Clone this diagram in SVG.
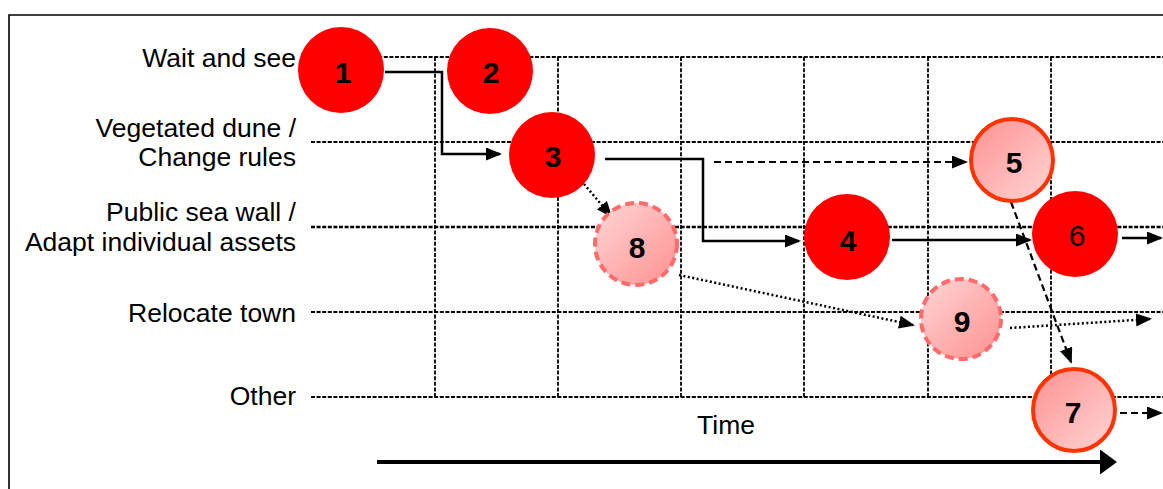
<svg xmlns="http://www.w3.org/2000/svg" width="1163" height="489" viewBox="0 0 1163 489">
  <style>
    .lbl { font-family: "Liberation Sans", Arial, sans-serif; font-size: 26.5px; fill: #000; text-anchor: end; }
    .num { font-family: "Liberation Sans", Arial, sans-serif; font-size: 30px; font-weight: bold; fill: #000; text-anchor: middle; }
    .grid { stroke: #000; stroke-width: 1.8; stroke-dasharray: 4 1.6; fill: none; }
    .solid { stroke: #000; stroke-width: 2.5; fill: none; }
    .dash { stroke: #000; stroke-width: 2.2; stroke-dasharray: 7 4; fill: none; }
    .dot { stroke: #000; stroke-width: 2.5; stroke-dasharray: 2 2.5; fill: none; }
    .red { fill: #FF0000; }
    .firm { stroke: #FF3300; stroke-width: 4; }
    .soft { stroke: #FF6A6A; stroke-width: 4; stroke-dasharray: 9 5; }
  </style>
  <defs>
    <marker id="arr" markerUnits="userSpaceOnUse" markerWidth="17" markerHeight="14" refX="14" refY="6.5" orient="auto">
      <path d="M0,0 L16,6.5 L0,13 z" fill="#000"/>
    </marker>
    <marker id="bigarr" markerUnits="userSpaceOnUse" markerWidth="18" markerHeight="26" refX="14" refY="12.5" orient="auto">
      <path d="M0,0 L17,12.5 L0,25 z" fill="#000"/>
    </marker>
    <linearGradient id="pinkA" x1="0" y1="0" x2="1" y2="1">
      <stop offset="0" stop-color="#FF9090"/>
      <stop offset="1" stop-color="#FFD6D6"/>
    </linearGradient>
    <linearGradient id="pinkB" x1="0" y1="0" x2="1" y2="1">
      <stop offset="0" stop-color="#FFD6D6"/>
      <stop offset="1" stop-color="#FF9090"/>
    </linearGradient>
  </defs>

  <rect width="1163" height="489" fill="#fff"/>

  <!-- frame -->
  <path d="M9,489 L9,15 L1163,15" stroke="#000" stroke-width="1.6" fill="none"/>

  <!-- row labels and axis title -->
  <g id="labels">
    <text class="lbl" x="296" y="67">Wait and see</text>
    <text class="lbl" x="296" y="137">Vegetated dune /</text>
    <text class="lbl" x="296" y="166">Change rules</text>
    <text class="lbl" x="296" y="221">Public sea wall /</text>
    <text class="lbl" x="296" y="251">Adapt individual assets</text>
    <text class="lbl" x="296" y="322">Relocate town</text>
    <text class="lbl" x="296" y="405">Other</text>
    <text class="lbl" x="726" y="434" style="text-anchor:middle">Time</text>
  </g>

  <!-- grid -->
  <g id="grid">
    <line class="grid" x1="311" y1="57" x2="1163" y2="57"/>
    <line class="grid" x1="311" y1="142" x2="1163" y2="142"/>
    <line class="grid" x1="311" y1="227" x2="1163" y2="227" style="stroke-width:2.6"/>
    <line class="grid" x1="311" y1="312" x2="1163" y2="312"/>
    <line class="grid" x1="311" y1="397" x2="1163" y2="397"/>
    <line class="grid" x1="435" y1="57" x2="435" y2="397"/>
    <line class="grid" x1="558" y1="57" x2="558" y2="397"/>
    <line class="grid" x1="681" y1="57" x2="681" y2="397"/>
    <line class="grid" x1="804" y1="57" x2="804" y2="397"/>
    <line class="grid" x1="928" y1="57" x2="928" y2="397"/>
    <line class="grid" x1="1051" y1="57" x2="1051" y2="397"/>
  </g>

  <!-- connectors -->
  <g id="connectors">
    <polyline class="solid" points="385,72 442,72 442,154 500,154" marker-end="url(#arr)"/>
    <polyline class="solid" points="605,159 703,159 703,241 799,241" marker-end="url(#arr)"/>
    <line class="dash" x1="714" y1="162" x2="966" y2="162" marker-end="url(#arr)"/>
    <line class="dot" x1="584" y1="184" x2="611" y2="216" marker-end="url(#arr)"/>
    <line class="dot" x1="679" y1="275" x2="913" y2="325" marker-end="url(#arr)"/>
    <line class="dot" x1="1010" y1="328" x2="1150" y2="319" marker-end="url(#arr)"/>
    <line class="solid" x1="892" y1="240" x2="1030" y2="240" marker-end="url(#arr)"/>
    <line class="solid" x1="1122" y1="238" x2="1161" y2="238" marker-end="url(#arr)"/>
    <line class="dash" x1="1011" y1="202" x2="1071" y2="362" marker-end="url(#arr)"/>
    <line class="dash" x1="1120" y1="413" x2="1161" y2="413" marker-end="url(#arr)"/>
    <line x1="377" y1="462" x2="1114" y2="462" stroke="#000" stroke-width="4" marker-end="url(#bigarr)"/>
  </g>

  <!-- nodes -->
  <g id="n1"><circle class="red" cx="341" cy="70" r="43"/><text class="num" x="343" y="83">1</text></g>
  <g id="n2"><circle class="red" cx="490" cy="71" r="43"/><text class="num" x="491" y="83">2</text></g>
  <g id="n3"><circle class="red" cx="552" cy="155" r="43"/><text class="num" x="553" y="167">3</text></g>
  <g id="n8"><circle cx="636" cy="244" r="41" fill="url(#pinkB)" class="soft"/><text class="num" x="637" y="258">8</text></g>
  <g id="n4"><circle class="red" cx="847" cy="237" r="43"/><text class="num" x="848" y="251">4</text></g>
  <g id="n5"><circle cx="1012" cy="160" r="41" fill="url(#pinkA)" class="firm"/><text class="num" x="1014" y="173">5</text></g>
  <g id="n6"><circle class="red" cx="1075" cy="234" r="43"/><text class="num" x="1077" y="246" style="font-weight:normal">6</text></g>
  <g id="n9"><circle cx="961" cy="319" r="40" fill="url(#pinkB)" class="soft"/><text class="num" x="962" y="332">9</text></g>
  <g id="n7"><circle cx="1074" cy="410" r="41" fill="url(#pinkA)" class="firm"/><text class="num" x="1073" y="423">7</text></g>
</svg>
